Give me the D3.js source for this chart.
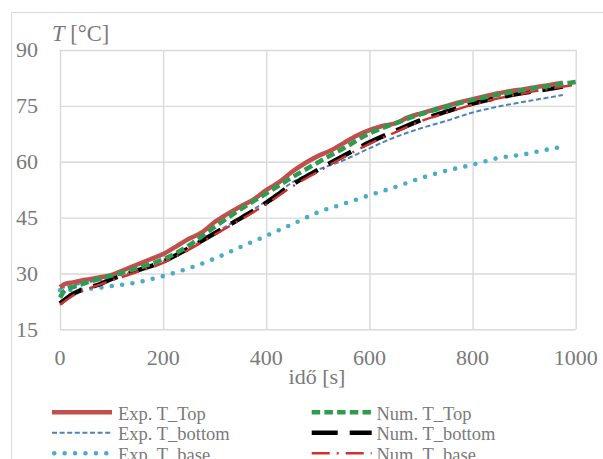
<!DOCTYPE html>
<html><head><meta charset="utf-8">
<script src="https://cdn.jsdelivr.net/npm/d3@7"></script>
<style>
html,body{margin:0;padding:0;background:#fff;overflow:hidden}
svg text{font-family:"Liberation Serif","Times New Roman",Tinos,"DejaVu Serif",serif;}
</style>
</head><body>
<svg id="c" width="603" height="459"></svg>
<script>
// ---- data ----
const xTicks = [0, 200, 400, 600, 800, 1000];
const yTicks = [15, 30, 45, 60, 75, 90];

const expTopT = [0,10,25,50,75,100,125,150,175,200,225,250,275,300,325,350,375,400,425,450,475,500,525,550,575,600,625,650,675,700,725,750,775,800,825,850,875,900,925,950,975];
const expTopV = [26.3,27.2,27.6,28.3,28.9,29.6,31.0,32.4,33.8,35.2,37.2,39.3,41.0,43.8,46.0,48.0,49.8,52.4,54.5,57.3,59.6,61.5,63.0,65.0,67.0,68.5,69.6,70.3,71.9,73.0,74.0,75.0,76.0,76.8,77.6,78.4,79.0,79.5,80.1,80.6,81.2];

const expBottomT = [0,25,50,100,150,200,250,300,350,400,450,500,550,600,650,700,750,800,850,900,950,975];
const expBottomV = [26.0,26.8,27.5,28.9,30.8,33.2,36.8,40.8,45.0,49.4,54.4,57.8,60.4,63.6,66.6,69.0,71.0,73.2,74.8,76.1,77.3,77.9];

const expBaseT = [0,50,100,150,200,250,300,350,400,450,500,550,600,650,700,750,800,850,900,950,975];
const expBaseV = [25.5,25.8,26.6,27.6,29.3,31.4,34.0,37.1,40.1,43.2,46.4,48.7,51.0,53.2,55.6,57.6,59.2,61.0,62.0,63.4,64.0];

const numTopT = [0,10,25,50,100,150,200,250,300,350,400,450,500,550,600,650,700,750,800,850,900,950,1000];
const numTopV = [23.5,25.5,26.3,27.5,29.4,31.4,33.8,37.5,42.5,47.2,51.5,55.8,59.8,63.6,67.6,70.3,72.8,74.8,76.6,78.0,79.3,80.4,81.4];

const numBottomT = [0,25,50,75,100,150,200,250,300,350,400,450,500,550,600,650,700,750,800,850,900,950,975];
const numBottomV = [21.9,24.5,26.0,27.0,28.5,30.8,33.2,36.8,40.8,44.8,49.0,53.8,57.8,61.6,65.2,68.3,71.2,73.5,75.6,77.2,78.5,79.6,80.2];

const numBaseT = [0,25,50,100,150,200,250,300,350,400,450,500,550,600,650,700,750,800,850,900,950,1000];
const numBaseV = [21.6,24.0,25.6,28.1,30.4,32.8,36.4,40.4,44.4,48.6,53.3,57.3,61.2,64.8,67.9,70.9,73.2,75.3,77.0,78.4,79.6,80.7];

const seriesNames = ["Exp. T_Top","Exp. T_bottom","Exp. T_base","Num. T_Top","Num. T_bottom","Num. T_base"];

// ---- drawing ----
const svg = d3.select("#c");
const txt = "#7a7a7a";
const grid = "#d9d9d9";

// outer chart border
svg.append("path").attr("d","M11.5,459 V12.5 H603").attr("fill","none").attr("stroke",grid).attr("stroke-width",1);

const x = d3.scaleLinear().domain([0,1000]).range([60,575.7]);
const y = d3.scaleLinear().domain([15,90]).range([329.3,50]);

// gridlines via axes
const gx = svg.append("g").attr("transform","translate(0,329.3)")
  .call(d3.axisBottom(x).tickValues(xTicks).tickSize(-(329.3-50)).tickFormat(""));
const gy = svg.append("g").attr("transform","translate(60,0)")
  .call(d3.axisLeft(y).tickValues(yTicks).tickSize(-(575.7-60)).tickFormat(""));
[gx,gy].forEach(g=>{
  g.select(".domain").remove();
  g.selectAll(".tick line").attr("stroke",grid).attr("stroke-width",1.4);
});

// tick labels
svg.append("g").selectAll("text").data(yTicks).join("text")
  .attr("x",38).attr("y",d=>y(d)+7.3).attr("text-anchor","end")
  .attr("font-size",22).attr("fill",txt).text(d=>d);
svg.append("g").selectAll("text").data(xTicks).join("text")
  .attr("x",d=>x(d)).attr("y",365).attr("text-anchor","middle")
  .attr("font-size",22).attr("fill",txt).text(d=>d);

// axis titles
const yt = svg.append("text").attr("x",52).attr("y",40.5)
  .attr("font-size",22.5).attr("fill",txt);
yt.append("tspan").attr("font-style","italic").text("T");
yt.append("tspan").text(" [°C]");
svg.append("text").attr("x",317).attr("y",384).attr("text-anchor","middle")
  .attr("font-size",22).attr("fill",txt).text("idő [s]");

const styles = [
  {t:expTopT, v:expTopV, color:"#C0504D", w:4.5, dash:null, cap:"butt"},
  {t:expBottomT, v:expBottomV, color:"#4F81BD", w:2, dash:"5,2.6", cap:"butt"},
  {t:expBaseT, v:expBaseV, color:"#4BACC6", w:4.6, dash:"0,10.4", cap:"round"},
  {t:numTopT, v:numTopV, color:"#2E9B4E", w:4.5, dash:"8.5,4.2", cap:"butt"},
  {t:numBottomT, v:numBottomV, color:"#000000", w:4.5, dash:"26,12", cap:"butt"},
  {t:numBaseT, v:numBaseV, color:"#D0312D", w:2.4, dash:"18,7,2,7", cap:"butt"}
];

const line = d3.line().x(d=>x(d[0])).y(d=>y(d[1])).curve(d3.curveMonotoneX);
const order = [2,1,4,5,0,3];
order.forEach(i=>{
  const s = styles[i];
  const pts = s.t.map((t,k)=>[t,s.v[k]]);
  svg.append("path").datum(pts).attr("d",line).attr("fill","none")
    .attr("stroke",s.color).attr("stroke-width",s.w)
    .attr("stroke-dasharray",s.dash).attr("stroke-linecap",s.cap)
    .attr("stroke-linejoin","round");
});

// legend
const rowsY = [412.3, 432.8, 453.3];
const cols = [{x1:52,x2:112,tx:118},{x1:311.7,x2:371.7,tx:376.5}];
seriesNames.forEach((name,i)=>{
  const col = cols[Math.floor(i/3)], ry = rowsY[i%3], s = styles[i];
  svg.append("line").attr("x1",col.x1 + (s.cap==="round"?2.3:0)).attr("x2",col.x2).attr("y1",ry).attr("y2",ry)
    .attr("stroke",s.color).attr("stroke-width",s.w)
    .attr("stroke-dasharray",s.dash).attr("stroke-linecap",s.cap);
  svg.append("text").attr("x",col.tx).attr("y",ry+7.2)
    .attr("font-size",18.5).attr("fill",txt).text(name);
});
</script>
</body></html>
